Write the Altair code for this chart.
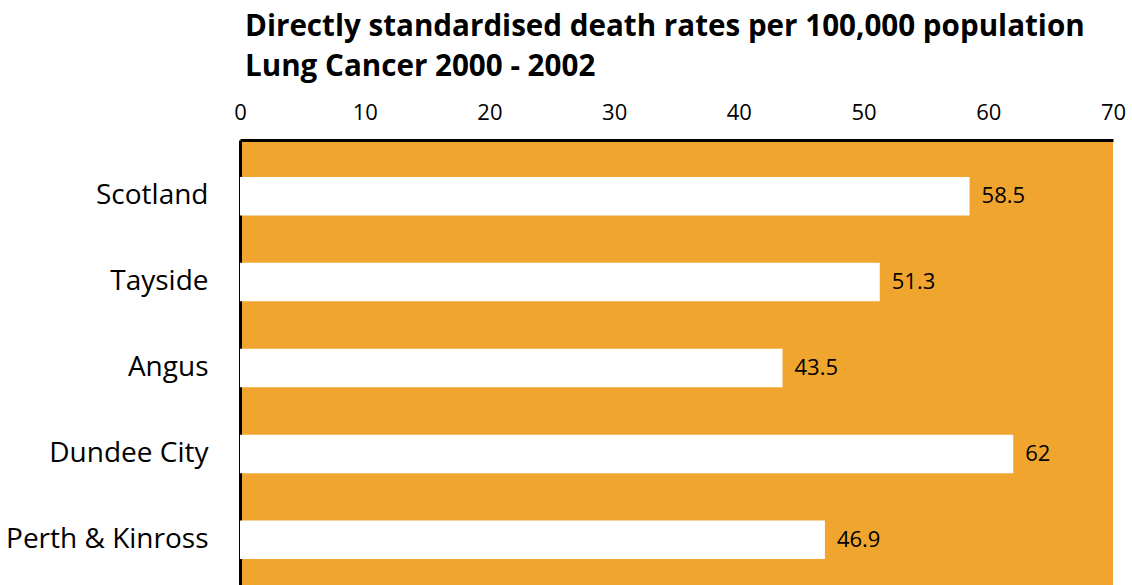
import altair as alt
import pandas as pd

areas = ["Scotland", "Tayside", "Angus", "Dundee City", "Perth & Kinross"]
rates = [58.5, 51.3, 43.5, 62, 46.9]
x_ticks = [0, 10, 20, 30, 40, 50, 60, 70]

df = pd.DataFrame({"area": areas, "rate": rates})

y_enc = alt.Y(
    "area:N",
    sort=areas,
    scale=alt.Scale(paddingInner=0.552, paddingOuter=0.43),
    axis=alt.Axis(
        title=None,
        ticks=False,
        domainColor="black",
        domainWidth=3,
        labelFont="Open Sans",
        labelFontSize=28,
        labelColor="black",
        labelPadding=32,
        labelLimit=300,
    ),
)

x_enc = alt.X(
    "rate:Q",
    scale=alt.Scale(domain=[0, 70], nice=False),
    axis=alt.Axis(
        orient="top",
        title=None,
        values=x_ticks,
        ticks=False,
        grid=False,
        domainColor="black",
        domainWidth=3,
        labelFont="Open Sans",
        labelFontSize=22,
        labelColor="black",
        labelPadding=16,
        labelFlush=False,
    ),
)

bars = alt.Chart(df).mark_bar(color="white").encode(x=x_enc, y=y_enc)

labels = alt.Chart(df).mark_text(
    align="left", baseline="middle", dx=12, font="Open Sans", fontSize=22, color="black"
).encode(
    x="rate:Q",
    y=alt.Y("area:N", sort=areas),
    text=alt.Text("rate:Q"),
)

chart = (
    alt.layer(bars, labels)
    .properties(
        width=873,
        height=456,
        autosize=alt.AutoSizeParams(type="none"),
        padding={"left": 240, "top": 140, "right": 19, "bottom": 0},
        title=alt.TitleParams(
            text=[
                "Directly standardised death rates per 100,000 population",
                "Lung Cancer 2000 - 2002",
            ],
            anchor="start",
            frame="group",
            dx=5,
            offset=18,
            font="Open Sans",
            fontSize=29.6,
            fontWeight="bold",
            color="black",
            lineHeight=40,
        ),
    )
    .configure_view(fill="#F0A52F", stroke=None)
)

chart.save("out.html", embed_options={"renderer": "svg", "actions": False})
